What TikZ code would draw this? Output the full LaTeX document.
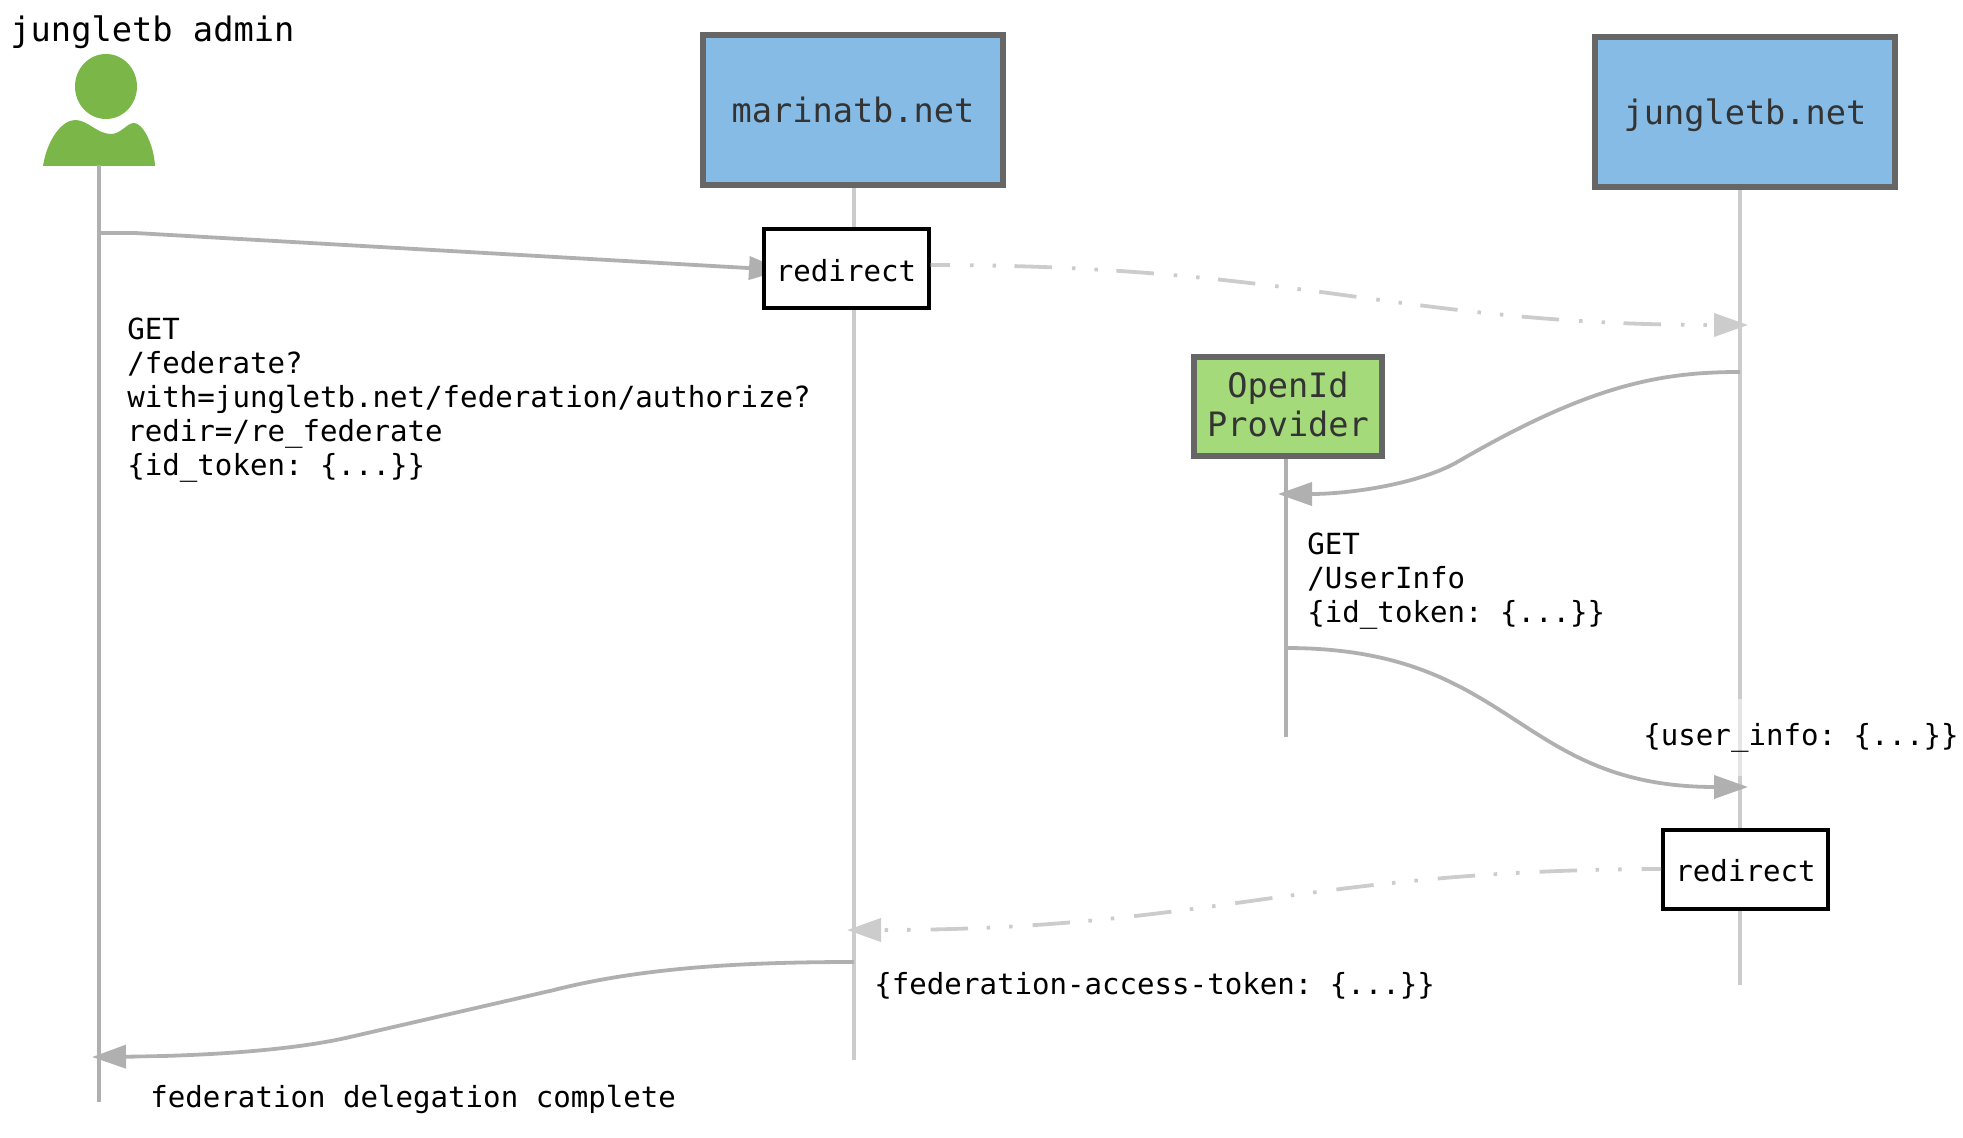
\documentclass[tikz,border=0pt]{standalone}
\usepackage{fontspec}
\setmonofont{DejaVu Sans Mono}
\usepackage{xcolor}
\definecolor{sitefill}{HTML}{85BBE5}
\definecolor{providerfill}{HTML}{A5DA7B}
\definecolor{personfill}{HTML}{7AB648}
\definecolor{boxline}{HTML}{666666}
\definecolor{textdark}{HTML}{333333}
\definecolor{flowdark}{HTML}{B0B0B0}
\definecolor{flowlight}{HTML}{CCCCCC}
\usetikzlibrary{arrows.meta, positioning, calc}

\begin{document}
\begin{tikzpicture}[
        x=0.5pt, y=-0.5pt,
        font=\ttfamily,
        msg_label/.style={
            anchor=west,
            align=left,
            inner sep=0pt,
            font=\fontsize{14.55pt}{17pt}\selectfont\ttfamily
        },
        faded_label/.style={
            msg_label,
            fill=white,
            fill opacity=0.5,
            text opacity=1
        },
        site_box/.style={
            rectangle,
            draw=boxline,
            fill=sitefill,
            line width=3pt,
            text=textdark,
            text height=14pt,
            text depth=1.5pt,
            minimum width=150pt,
            minimum height=75pt,
            font=\fontsize{16.8pt}{19.4pt}\selectfont\ttfamily
        },
        provider_box/.style={
            site_box,
            fill=providerfill,
            align=center,
            inner sep=0pt,
            text height=32.7pt,
            text depth=2.5pt,
            minimum width=94pt,
            minimum height=49.5pt
        },
        redirect_box/.style={
            rectangle,
            draw=black,
            fill=white,
            line width=2pt,
            text height=13pt,
            minimum width=82.5pt,
            minimum height=39.5pt,
            font=\fontsize{14.55pt}{17pt}\selectfont\ttfamily
        },
        life_dark/.style={draw=flowdark, line width=1.9pt},
        life_light/.style={draw=flowlight, line width=1.9pt},
        call_arrow/.style={
            -{Triangle[length=17pt, width=11.5pt]},
            draw=flowdark,
            line width=1.9pt
        },
        redirect_arrow/.style={
            -{Triangle[length=17pt, width=11.5pt]},
            draw=flowlight,
            line width=1.9pt,
            dash pattern=on 18.75pt off 10pt on 1.75pt off 9.5pt on 1.75pt off 9.25pt,
            dash phase=9pt
        }
    ]
    \useasboundingbox (0,0) rectangle (1963,1138);

    % Lifeline ends
    \coordinate (admin_top) at (99,165);
    \coordinate (admin_end) at (99,1102);
    \coordinate (marina_end) at (854,1060);
    \coordinate (jungle_end) at (1740,985);
    \coordinate (provider_end) at (1286,737);

    % Admin
    \node[msg_label, font=\fontsize{16.85pt}{19.4pt}\selectfont\ttfamily] (admin) at (10,32) {jungletb admin};
    \fill[personfill] (106,86.5) ellipse (31 and 32.5);
    \fill[personfill] (43,166) .. controls (47,140) and (62,120) .. (75,120)
        .. controls (88,120) and (97,134) .. (111,134)
        .. controls (121,134) and (127,123) .. (134,123)
        .. controls (143,123) and (154,145) .. (155,166) -- cycle;

    % Sites
    \node[site_box] (marina) at (853,110.5) {marinatb.net};
    \node[site_box] (jungle) at (1745,112) {jungletb.net};
    \node[provider_box] (provider) at (1288,406.5) {OpenId\\Provider};

    % Lifelines
    \draw[life_dark] (admin_top) -- (admin_end);
    \draw[life_light] (marina.south -| marina_end) -- (marina_end);
    \draw[life_light] (jungle.south -| jungle_end) -- (jungle_end);
    \draw[life_dark] (provider.south -| provider_end) -- (provider_end);

    % Arrow ends
    \coordinate (admin_out) at (99,233);
    \coordinate (admin_bend) at (135,233);
    \coordinate (marina_hit) at (783,270);
    \coordinate (jungle_in) at (1748,325);
    \coordinate (jungle_out) at (1740,372);
    \coordinate (provider_in) at (1278,494);
    \coordinate (provider_out) at (1286,648);
    \coordinate (jungle_info) at (1748,787);
    \coordinate (marina_in) at (847,930);
    \coordinate (marina_out) at (854,962);
    \coordinate (admin_in) at (92,1057);

    % Redirects
    \draw[call_arrow] (admin_out) -- (admin_bend) -- (marina_hit);
    \node[redirect_box] (redirect_out) at (846,269) {redirect};
    \node[redirect_box] (redirect_back) at (1745.5,869) {redirect};

    % Labels
    \node[msg_label] (get_federate) at (127,400.5) {GET\\/federate?\\with=jungletb.net/federation/authorize?\\redir=/re\_federate\\\{id\_token: \{...\}\}};
    \node[msg_label] (get_userinfo) at (1307,581.5) {GET\\/UserInfo\\\{id\_token: \{...\}\}};
    \node[faded_label, minimum height=38.5pt] (user_info) at (1643,737.5) {\{user\_info: \{...\}\}};
    \node[msg_label] (access_token) at (874,985.5) {\{federation-access-token: \{...\}\}};

    % Flow
    \draw[redirect_arrow] (redirect_out.east |- 0,265) .. controls (1300,265) and (1400,325) .. (jungle_in);
    \draw[call_arrow] (jungle_out) .. controls (1660,372) and (1590,385) .. (1459,461)
        .. controls (1420,484) and (1350,494) .. (provider_in);
    \draw[call_arrow] (provider_out) .. controls (1515,648) and (1515,787) .. (jungle_info);
    \draw[redirect_arrow] (redirect_back.west) .. controls (1300,870) and (1210,930) .. (marina_in);
    \draw[call_arrow] (marina_out) .. controls (740,962) and (640,968) .. (554,990)
        -- (350,1037) .. controls (290,1051) and (200,1056) .. (admin_in);

    \node[faded_label, inner xsep=5pt, minimum height=41pt] (complete) at (140,1099) {federation delegation complete};

\end{tikzpicture}
\end{document}
